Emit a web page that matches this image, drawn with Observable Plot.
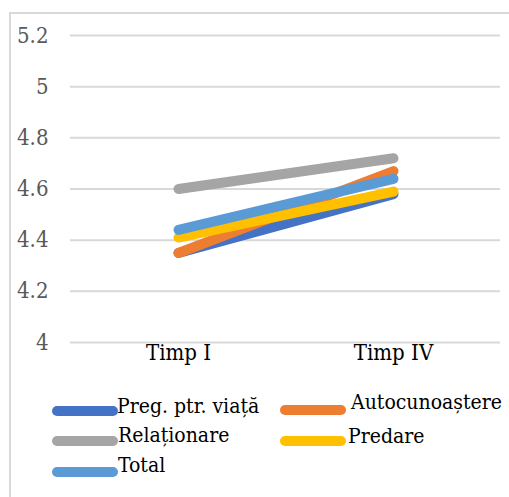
<!DOCTYPE html>
<html>
<head>
<meta charset="utf-8">
<script src="https://cdn.jsdelivr.net/npm/d3@7"></script>
<script src="https://cdn.jsdelivr.net/npm/@observablehq/plot@0.6"></script>
<style>
  html, body { margin: 0; padding: 0; background: #fff; }
  #wrap { position: relative; width: 509px; height: 497px; overflow: hidden; }
  #frame { position: absolute; left: 9px; top: 12px; width: 520px; height: 500px; border-left: 2px solid #d9d9d9; border-top: 2px solid #d9d9d9; pointer-events: none; z-index: 2; }
  #chart { position: absolute; left: 0; top: 0; }
  #legend { position: absolute; left: 0; top: 375px; }
</style>
</head>
<body>
<div id="wrap">
  <div id="chart"></div>
  <div id="legend"></div>
  <div id="frame"></div>
</div>
<script>
const categories = ["Timp I", "Timp IV"];
const seriesNames = ["Preg. ptr. viață", "Autocunoaștere", "Relaționare", "Predare", "Total"];
const seriesColors = ["#4472C4", "#ED7D31", "#A5A5A5", "#FFC000", "#5B9BD5"];
const pregValues = [4.35, 4.58];
const autoValues = [4.35, 4.67];
const relValues = [4.60, 4.72];
const predValues = [4.41, 4.59];
const totalValues = [4.44, 4.64];
const yTicks = [4, 4.2, 4.4, 4.6, 4.8, 5, 5.2];

const FONT = "'DejaVu Serif Condensed', 'DejaVu Serif', serif";

const allValues = [pregValues, autoValues, relValues, predValues, totalValues];
const data = [];
seriesNames.forEach((s, i) => {
  categories.forEach((c, j) => data.push({series: s, cat: c, value: allValues[i][j]}));
});

const chart = Plot.plot({
  width: 509,
  height: 375,
  marginLeft: 70,
  marginRight: 9,
  marginTop: 35,
  marginBottom: 33,
  style: {background: "transparent", fontFamily: FONT},
  x: {type: "point", domain: categories, padding: 0.5},
  y: {domain: [4, 5.2]},
  color: {domain: seriesNames, range: seriesColors},
  marks: [
    Plot.gridY(yTicks, {stroke: "#d9d9d9", strokeOpacity: 1, strokeWidth: 2}),
    Plot.axisY(yTicks, {tickSize: 0, tickPadding: 22, fontSize: 22, fill: "#595959", label: null, tickFormat: d => String(d)}),
    Plot.axisX({tickSize: 0, tickPadding: 2, fontSize: 22, fill: "#000", label: null}),
    Plot.line(data, {x: "cat", y: "value", z: "series", stroke: "series", strokeWidth: 10, strokeLinecap: "round", strokeLinejoin: "round"})
  ]
});
document.getElementById("chart").appendChild(chart);

const legendItems = [
  {x1: 57, x2: 113, y: 36, tx: 117, ty: 38},
  {x1: 285, x2: 341, y: 35, tx: 351, ty: 34},
  {x1: 57, x2: 113, y: 66, tx: 118, ty: 67},
  {x1: 285, x2: 341, y: 66, tx: 348, ty: 68},
  {x1: 57, x2: 113, y: 97, tx: 118, ty: 97}
];
const lsvg = d3.create("svg").attr("width", 509).attr("height", 122);
seriesNames.forEach((s, i) => {
  const p = legendItems[i];
  lsvg.append("line").attr("x1", p.x1).attr("x2", p.x2).attr("y1", p.y).attr("y2", p.y)
    .attr("stroke", seriesColors[i]).attr("stroke-width", 10).attr("stroke-linecap", "round");
  lsvg.append("text").attr("x", p.tx).attr("y", p.ty).attr("font-size", 21).attr("fill", "#000")
    .attr("font-family", FONT).text(s);
});
document.getElementById("legend").appendChild(lsvg.node());
</script>
</body>
</html>
